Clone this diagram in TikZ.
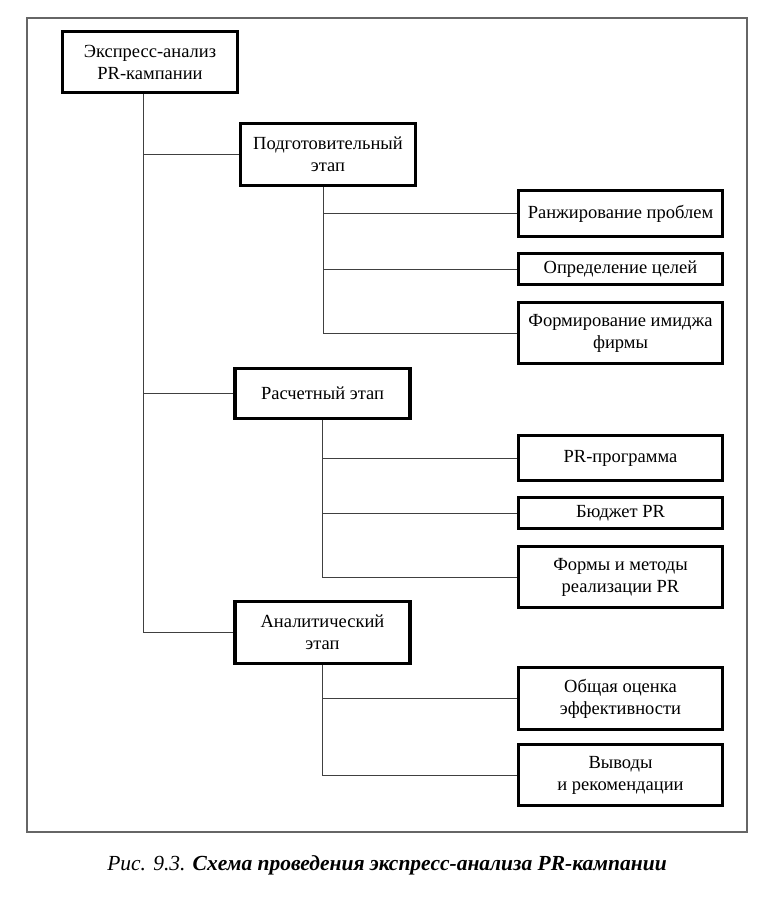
\documentclass[tikz,border=0pt]{standalone}
\usepackage{fontspec}
\setmainfont{Liberation Serif}
\begin{document}
\begin{tikzpicture}[x=1pt,y=-1pt,
    box/.style={draw,line width=3.2pt,align=center,inner sep=0pt,
      font=\fontsize{18.5}{22}\selectfont},
    stagebox/.style={box,minimum width=175pt},
    itembox/.style={box,minimum width=204pt},
    link/.style={line width=1pt,black!75}]
    \useasboundingbox[fill=white] (0,0) rectangle (780,909);
    % outer frame
    \draw[line width=1.2pt,black!60] (27,18) rectangle (747,832);
    % stages
    \node[stagebox,minimum height=61pt] (root) at (150,62) {Экспресс-анализ\\PR-кампании};
    \node[stagebox,minimum height=62pt] (prep) at (328,154.5) {Подготовительный\\этап};
    \node[stagebox,minimum height=50pt] (calc) at (322.5,393.5) {Расчетный этап};
    \node[stagebox,minimum height=62pt] (ana) at (322.5,632.5) {Аналитический\\этап};
    % preparatory stage
    \node[itembox,minimum height=46pt] (rank) at (620.5,213.5) {Ранжирование проблем};
    \node[itembox,minimum height=31pt] (goal) at (620.5,269) {Определение целей};
    \node[itembox,minimum height=61pt] (image) at (620.5,333) {Формирование имиджа\\фирмы};
    % calculation stage
    \node[itembox,minimum height=45pt] (prog) at (620.5,458) {PR-программа};
    \node[itembox,minimum height=31pt] (budget) at (620.5,513) {Бюджет PR};
    \node[itembox,minimum height=61pt] (forms) at (620.5,577) {Формы и методы\\реализации PR};
    % analytical stage
    \node[itembox,minimum height=62pt] (eval) at (620.5,698.5) {Общая оценка\\эффективности};
    \node[itembox,minimum height=61pt] (concl) at (620.5,775) {Выводы\\и рекомендации};
    % trunks
    \coordinate (trunk) at ([xshift=-7pt]root.south);
    \coordinate (preptrunk) at ([xshift=-5pt]prep.south);
    \draw[link] (trunk) |- (ana.west);
    \foreach \n in {prep,calc}
      {\draw[link] (trunk |- \n.west) -- (\n.west);}
    \draw[link] (preptrunk) |- (image.west);
    \foreach \n in {rank,goal}
      {\draw[link] (preptrunk |- \n.west) -- (\n.west);}
    \draw[link] (calc.south) |- (forms.west);
    \foreach \n in {prog,budget}
      {\draw[link] (calc.south |- \n.west) -- (\n.west);}
    \draw[link] (ana.south) |- (concl.west);
    \draw[link] (ana.south |- eval.west) -- (eval.west);
    % caption
    \node[anchor=base,inner sep=0pt,font=\fontsize{21.5}{24}\selectfont] (caption) at (387,870)
      {\textit{Рис. 9.3.} \textbf{\textit{Схема проведения экспресс-анализа PR-кампании}}};
\end{tikzpicture}
\end{document}
